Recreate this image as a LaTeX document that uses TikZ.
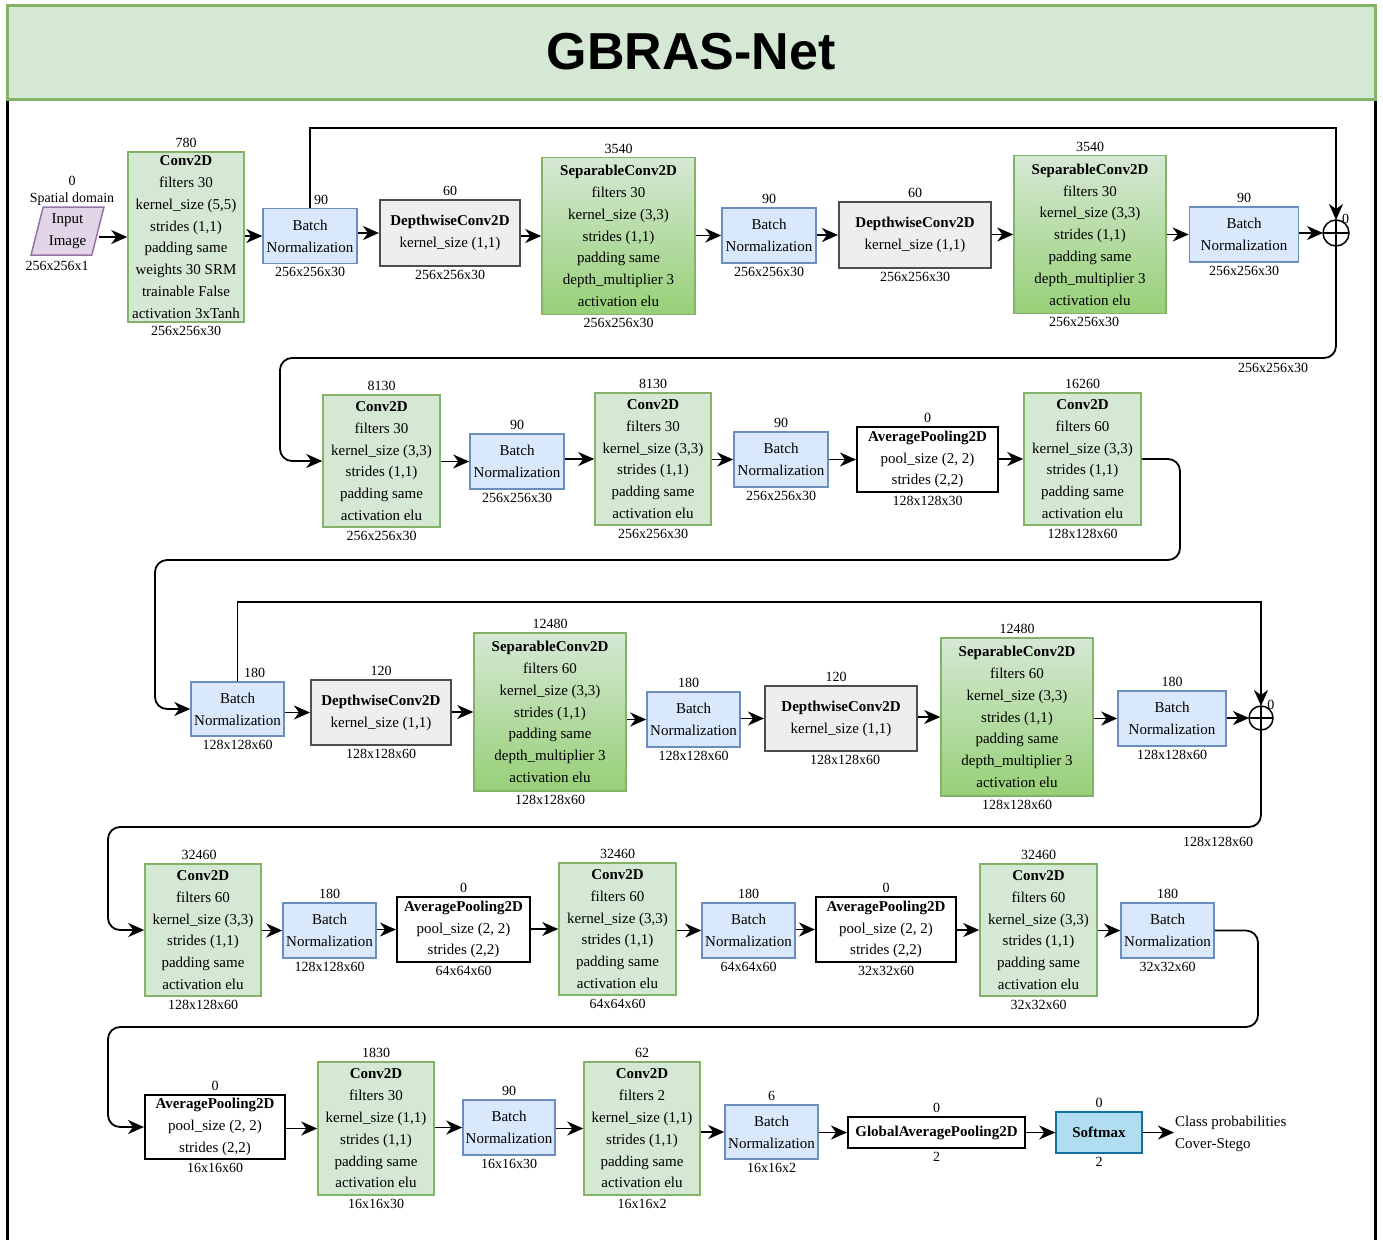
\documentclass[tikz,border=0pt]{standalone}
\usepackage{fontspec}
\setmainfont{Liberation Serif}
\newfontfamily\titlefont{Liberation Sans}
\usepackage{tikz}
\usetikzlibrary{shapes.geometric}
\usetikzlibrary{arrows.meta}

\definecolor{convfill}{HTML}{D5E8D4}
\definecolor{convline}{HTML}{82B366}
\definecolor{sepbot}{HTML}{97D077}
\definecolor{bnfill}{HTML}{DAE8FC}
\definecolor{bnline}{HTML}{6C8EBF}
\definecolor{dwfill}{HTML}{EEEEEE}
\definecolor{dwline}{HTML}{4D4D4D}
\definecolor{inpfill}{HTML}{E1D5E7}
\definecolor{inpline}{HTML}{9673A6}
\definecolor{smfill}{HTML}{B1DDF0}
\definecolor{smline}{HTML}{10739E}

\newcommand{\boxfont}{\fontsize{15}{21.8}\selectfont}
\newcommand{\lblfont}{\fontsize{14}{17}\selectfont}

\tikzset{
  box/.style={draw, align=center, inner sep=0pt, font=\boxfont},
  sz/.style 2 args={minimum width=#1pt, minimum height=#2pt},
  conv/.style={box, fill=convfill, draw=convline, line width=1.5pt},
  sepc/.style={box, top color=convfill, bottom color=sepbot, draw=convline, line width=1.5pt},
  bn/.style={box, fill=bnfill, draw=bnline, line width=1.5pt},
  dw/.style={box, fill=dwfill, draw=dwline, line width=2pt},
  pool/.style={box, fill=white, draw=black, line width=2pt},
  smx/.style={box, fill=smfill, draw=smline, line width=1.5pt},
  lbl/.style={font=\lblfont, inner sep=1pt, align=center},
  every label/.style={lbl},
  arr/.style={-{Stealth[length=16pt,width=14pt,inset=5pt]}, line width=1.8pt},
  plus/.style={circle, draw, line width=1.5pt, minimum size=#1pt, inner sep=0pt, outer sep=0pt},
}

\begin{document}
\begin{tikzpicture}[x=1pt, y=-1pt, label distance=2pt]
    \useasboundingbox (0,0) rectangle (1383,1240);

    % frame and title
    \draw[line width=3pt] (7,99) -- (7,1240) (1375,99) -- (1375,1240);
    \draw[line width=3pt, draw=convline, fill=convfill] (7,5) rectangle (1375,99);
    \node[font=\titlefont\bfseries\fontsize{52}{60}\selectfont] (title) at (691,52) {GBRAS-Net};

    % row 1
    \node[trapezium, trapezium left angle=75, trapezium right angle=105, trapezium stretches=true,
          draw=inpline, fill=inpfill, line width=1.5pt, minimum width=73pt, minimum height=48pt,
          inner sep=0pt, align=center, font=\boxfont] (inp) at (67.5,231) {Input\\Image};
    \node[lbl] (inptop) at (72,190.5) {0\\Spatial domain};
    \node[lbl] (inpbot) at (57,266) {256x256x1};

    \node[conv, sz={116}{170}, label=above:780, label=below:256x256x30] (c1) at (186,237)
        {\textbf{Conv2D}\\filters 30\\kernel\_size (5,5)\\strides (1,1)\\padding same\\weights 30 SRM\\trainable False\\activation 3xTanh};
    \node[bn, sz={94}{55}, label={[xshift=11pt]above:90}, label=below:256x256x30] (bn1) at (310,236) {Batch\\Normalization};
    \node[dw, sz={140}{66}, label=above:60, label=below:256x256x30] (dw1) at (450,233) {\textbf{DepthwiseConv2D}\\kernel\_size (1,1)};
    \node[sepc, sz={153}{157}, label=above:3540, label=below:256x256x30] (sc1) at (618.5,236)
        {\textbf{SeparableConv2D}\\filters 30\\kernel\_size (3,3)\\strides (1,1)\\padding same\\depth\_multiplier 3\\activation elu};
    \node[bn, sz={94}{55}, label=above:90, label=below:256x256x30] (bn2) at (769,235.5) {Batch\\Normalization};
    \node[dw, sz={152}{66}, label=above:60, label=below:256x256x30] (dw2) at (915,235) {\textbf{DepthwiseConv2D}\\kernel\_size (1,1)};
    \node[sepc, sz={152}{158}, label=above:3540, label={[xshift=-6pt]below:256x256x30}] (sc2) at (1090,234.5)
        {\textbf{SeparableConv2D}\\filters 30\\kernel\_size (3,3)\\strides (1,1)\\padding same\\depth\_multiplier 3\\activation elu};
    \node[bn, sz={109}{55}, label=above:90, label=below:256x256x30] (bn3) at (1244,234.5) {Batch\\Normalization};
    \node[plus=26, label={[label distance=-3pt]60:0}] (p1) at (1336,233) {};
    \draw[line width=1.5pt] (p1.north) -- (p1.south) (p1.west) -- (p1.east);

    % row 2
    \node[conv, sz={117}{132}, label=above:8130, label=below:256x256x30] (c2) at (381.5,461)
        {\textbf{Conv2D}\\filters 30\\kernel\_size (3,3)\\strides (1,1)\\padding same\\activation elu};
    \node[bn, sz={94}{55}, label=above:90, label=below:256x256x30] (bn4) at (517,461.5) {Batch\\Normalization};
    \node[conv, sz={116}{132}, label=above:8130, label=below:256x256x30] (c3) at (653,459)
        {\textbf{Conv2D}\\filters 30\\kernel\_size (3,3)\\strides (1,1)\\padding same\\activation elu};
    \node[bn, sz={94}{55}, label=above:90, label=below:256x256x30] (bn5) at (781,459.5) {Batch\\Normalization};
    \node[pool, sz={141}{65}, label=above:0, label=below:128x128x30] (ap1) at (927.5,459.5)
        {\textbf{AveragePooling2D}\\pool\_size (2, 2)\\strides (2,2)};
    \node[conv, sz={117}{132}, label=above:16260, label=below:128x128x60] (c4) at (1082.5,459)
        {\textbf{Conv2D}\\filters 60\\kernel\_size (3,3)\\strides (1,1)\\padding same\\activation elu};

    % row 3
    \node[bn, sz={93}{54}, label={[xshift=17pt]above:180}, label=below:128x128x60] (bn6) at (237.5,709) {Batch\\Normalization};
    \node[dw, sz={140}{65}, label=above:120, label=below:128x128x60] (dw3) at (381,712.5) {\textbf{DepthwiseConv2D}\\kernel\_size (1,1)};
    \node[sepc, sz={152}{158}, label=above:12480, label=below:128x128x60] (sc3) at (550,712)
        {\textbf{SeparableConv2D}\\filters 60\\kernel\_size (3,3)\\strides (1,1)\\padding same\\depth\_multiplier 3\\activation elu};
    \node[bn, sz={93}{55}, label={[xshift=-5pt]above:180}, label=below:128x128x60] (bn7) at (693.5,719.5) {Batch\\Normalization};
    \node[dw, sz={152}{65}, label={[xshift=-5pt]above:120}, label={[xshift=4pt]below:128x128x60}] (dw4) at (841,718.5) {\textbf{DepthwiseConv2D}\\kernel\_size (1,1)};
    \node[sepc, sz={152}{158}, label=above:12480, label=below:128x128x60] (sc4) at (1017,717)
        {\textbf{SeparableConv2D}\\filters 60\\kernel\_size (3,3)\\strides (1,1)\\padding same\\depth\_multiplier 3\\activation elu};
    \node[bn, sz={108}{55}, label=above:180, label=below:128x128x60] (bn8) at (1172,718.5) {Batch\\Normalization};
    \node[plus=24, label={[label distance=-3pt]55:0}] (p2) at (1261,718) {};
    \draw[line width=1.5pt] (p2.north) -- (p2.south) (p2.west) -- (p2.east);

    % row 4
    \node[conv, sz={116}{132}, label={[xshift=-4pt]above:32460}, label=below:128x128x60] (c5) at (203,930)
        {\textbf{Conv2D}\\filters 60\\kernel\_size (3,3)\\strides (1,1)\\padding same\\activation elu};
    \node[bn, sz={93}{55}, label=above:180, label=below:128x128x60] (bn9) at (329.5,930.5) {Batch\\Normalization};
    \node[pool, sz={133}{65}, label=above:0, label=below:64x64x60] (ap2) at (463.5,929.5)
        {\textbf{AveragePooling2D}\\pool\_size (2, 2)\\strides (2,2)};
    \node[conv, sz={117}{132}, label=above:32460, label=below:64x64x60] (c6) at (617.5,929)
        {\textbf{Conv2D}\\filters 60\\kernel\_size (3,3)\\strides (1,1)\\padding same\\activation elu};
    \node[bn, sz={93}{55}, label=above:180, label=below:64x64x60] (bn10) at (748.5,930.5) {Batch\\Normalization};
    \node[pool, sz={140}{65}, label=above:0, label=below:32x32x60] (ap3) at (886,929.5)
        {\textbf{AveragePooling2D}\\pool\_size (2, 2)\\strides (2,2)};
    \node[conv, sz={117}{132}, label=above:32460, label=below:32x32x60] (c7) at (1038.5,930)
        {\textbf{Conv2D}\\filters 60\\kernel\_size (3,3)\\strides (1,1)\\padding same\\activation elu};
    \node[bn, sz={93}{55}, label=above:180, label=below:32x32x60] (bn11) at (1167.5,930.5) {Batch\\Normalization};

    % row 5
    \node[pool, sz={140}{64}, label=above:0, label=below:16x16x60] (ap4) at (215,1127)
        {\textbf{AveragePooling2D}\\pool\_size (2, 2)\\strides (2,2)};
    \node[conv, sz={116}{133}, label=above:1830, label=below:16x16x30] (c8) at (376,1128.5)
        {\textbf{Conv2D}\\filters 30\\kernel\_size (1,1)\\strides (1,1)\\padding same\\activation elu};
    \node[bn, sz={92}{55}, label=above:90, label=below:16x16x30] (bn12) at (509,1127.5) {Batch\\Normalization};
    \node[conv, sz={116}{133}, label=above:62, label=below:16x16x2] (c9) at (642,1128.5)
        {\textbf{Conv2D}\\filters 2\\kernel\_size (1,1)\\strides (1,1)\\padding same\\activation elu};
    \node[bn, sz={93}{54}, label=above:6, label=below:16x16x2] (bn13) at (771.5,1132) {Batch\\Normalization};
    \node[pool, sz={177}{31}, label=above:0, label=below:2] (gap) at (936.5,1132.5) {\textbf{GlobalAveragePooling2D}};
    \node[smx, sz={86}{41}, label=above:0, label=below:2] (sm) at (1099,1132.5) {\textbf{Softmax}};
    \node[lbl, font=\boxfont, anchor=west, align=left] (out) at (1174,1134) {Class probabilities\\Cover-Stego};

    % straight arrows
    \foreach \a/\b in {inp/c1, c1/bn1, bn1/dw1, dw1/sc1, sc1/bn2, bn2/dw2, dw2/sc2, sc2/bn3, bn3/p1,
                       c2/bn4, bn4/c3, c3/bn5, bn5/ap1, ap1/c4,
                       bn6/dw3, dw3/sc3, sc3/bn7, bn7/dw4, dw4/sc4, sc4/bn8, bn8/p2,
                       c5/bn9, bn9/ap2, ap2/c6, c6/bn10, bn10/ap3, ap3/c7, c7/bn11,
                       ap4/c8, c8/bn12, bn12/c9, c9/bn13, bn13/gap, gap/sm}
        \draw[arr] (\a.east |- \b.west) -- (\b.west);
    \draw[arr] (sm.east) -- (sm.east -| out.west);

    % skip connections
    \coordinate (s1) at (1336,128);
    \draw[arr] (bn1.north) |- (s1) -- (p1.north);
    \coordinate (s2) at (1261,602);
    \draw[arr] (bn6.north) |- (s2) -- (p2.north);

    % row changes
    \coordinate (w1) at (280,358);
    \draw[arr, rounded corners=12pt] (p1.south) |- (w1) |- (c2.west);
    \node[lbl] (dim1) at (1273,368) {256x256x30};
    \coordinate (w2a) at (1180,560);
    \coordinate (w2b) at (155,560);
    \draw[arr, rounded corners=12pt] (c4.east) -| (w2a) -- (w2b) |- (bn6.west);
    \coordinate (w3) at (108,827);
    \draw[arr, rounded corners=12pt] (p2.south) |- (w3) |- (c5.west);
    \node[lbl] (dim2) at (1218,842) {128x128x60};
    \coordinate (w4a) at (1258,1027);
    \coordinate (w4b) at (108,1027);
    \draw[arr, rounded corners=12pt] (bn11.east) -| (w4a) -- (w4b) |- (ap4.west);
\end{tikzpicture}
\end{document}
